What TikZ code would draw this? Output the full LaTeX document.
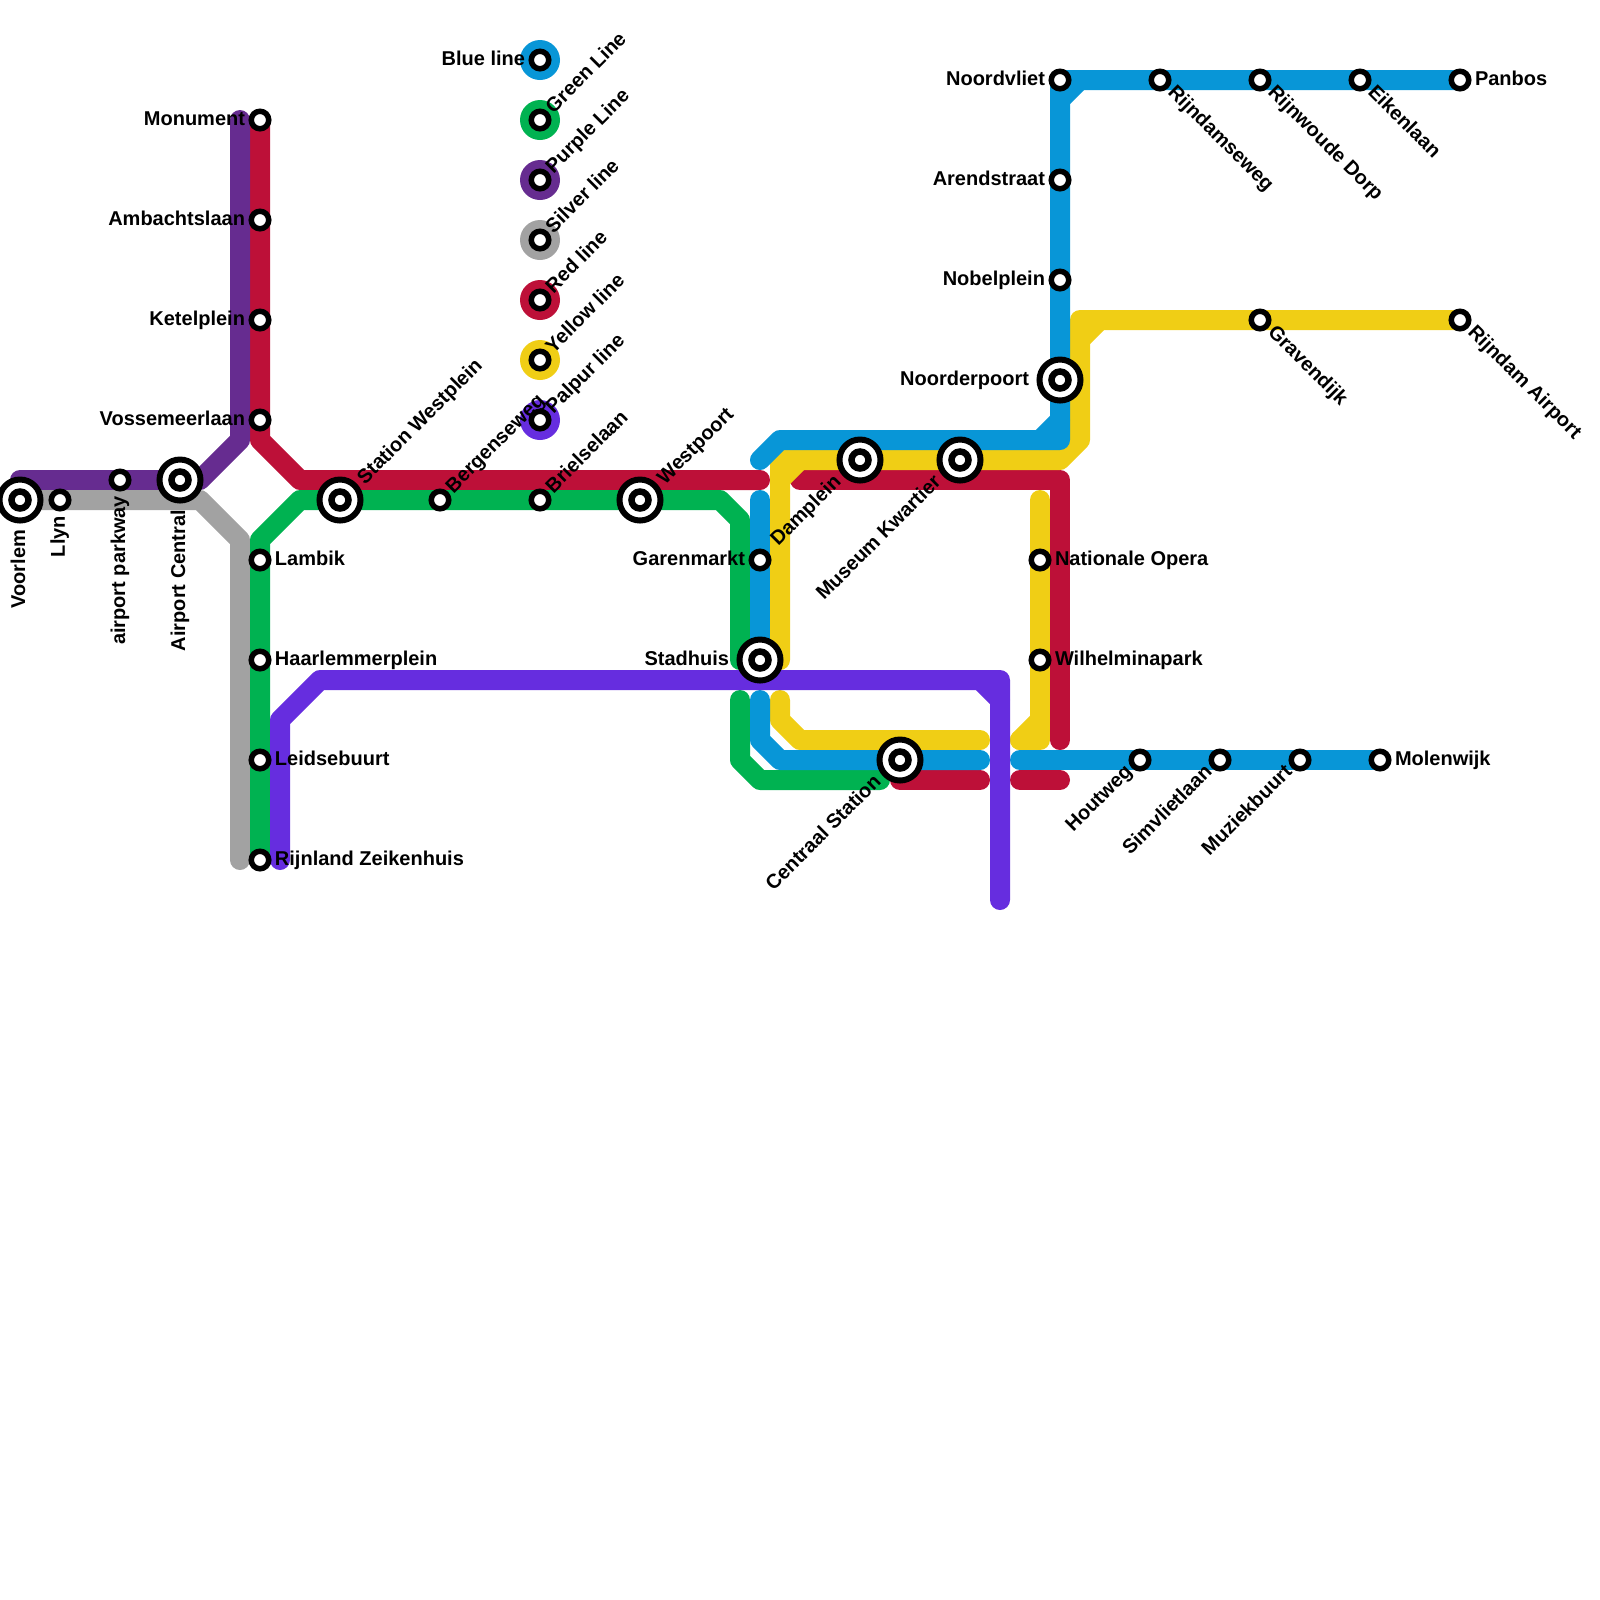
\documentclass[tikz,border=0pt]{standalone}
\usepackage{fontspec}
\setmainfont{Liberation Sans}
\definecolor{lineBlue}{HTML}{0896D7}
\definecolor{lineGreen}{HTML}{00B251}
\definecolor{linePurple}{HTML}{662C90}
\definecolor{lineSilver}{HTML}{A2A2A2}
\definecolor{lineRed}{HTML}{BD1038}
\definecolor{lineYellow}{HTML}{F0CE15}
\definecolor{linePalpur}{HTML}{662DDF}
\pgfdeclarelayer{lines}
\pgfsetlayers{lines,main}
\tikzset{
  track/.style={line width=0.2cm,line cap=round,line join=round},
  stop/.style={circle,draw=black,fill=white,line width=0.055cm,minimum size=0.175cm,inner sep=0pt,outer sep=0pt},
  hub/.style={circle,draw=black,fill=white,line width=0.06cm,minimum size=0.41cm,inner sep=0pt,outer sep=0pt},
  hubcore/.style={stop,line width=0.065cm,minimum size=0.17cm},
  keydot/.style={circle,minimum size=0.4cm,inner sep=0pt,outer sep=0pt},
  tag/.style={font=\bfseries\fontsize{5.69}{6}\selectfont,inner sep=0pt,outer sep=0pt},
  toE/.style={tag,anchor=base west,xshift=0.15cm,yshift=-0.055cm},
  toW/.style={tag,anchor=base east,xshift=-0.15cm,yshift=-0.055cm},
  toWW/.style={tag,anchor=base east,xshift=-0.31cm,yshift=-0.055cm},
  toS/.style={tag,anchor=base east,xshift=0.05cm,yshift=-0.16cm,rotate=90},
  toSS/.style={tag,anchor=base east,xshift=0.05cm,yshift=-0.3cm,rotate=90},
  toNE/.style={tag,anchor=base west,xshift=0.135cm,yshift=0.06cm,rotate=45},
  toNEE/.style={tag,anchor=base west,xshift=0.25cm,yshift=0.15cm,rotate=45},
  toSE/.style={tag,anchor=base west,xshift=0.07cm,yshift=-0.13cm,rotate=-45},
  toSW/.style={tag,anchor=base east,xshift=-0.07cm,yshift=-0.13cm,rotate=45},
  toSWW/.style={tag,anchor=base east,xshift=-0.18cm,yshift=-0.23cm,rotate=45},
}
\begin{document}
\begin{tikzpicture}[x=0.2cm,y=-0.2cm]
  \useasboundingbox (0,0) rectangle (80,80);
  % --- Stations ---
  \foreach \id/\xx/\yy in {voorlem/1/25,airportCentral/9/24,stationWestplein/17/25,westpoort/32/25,stadhuis/38/33,damplein/43/23,museumKwartier/48/23,centraalStation/45/38,noorderpoort/53/19} {
    \node[hub] (\id) at (\xx,\yy) {};
    \node[hubcore] (\id In) at (\xx,\yy) {};
  }
  \foreach \id/\xx/\yy in {llyn/3/25,airportParkway/6/24,monument/13/6,ambachtslaan/13/11,ketelplein/13/16,vossemeerlaan/13/21,lambik/13/28,haarlemmerplein/13/33,leidsebuurt/13/38,rijnland/13/43,bergenseweg/22/25,brielselaan/27/25,garenmarkt/38/28,noordvliet/53/4,arendstraat/53/9,nobelplein/53/14,rijndamseweg/58/4,rijnwoude/63/4,eikenlaan/68/4,panbos/73/4,gravendijk/63/16,rijndamAirport/73/16,nationaleOpera/52/28,wilhelminapark/52/33,houtweg/57/38,simvlietlaan/61/38,muziekbuurt/65/38,molenwijk/69/38}
    \node[stop] (\id) at (\xx,\yy) {};
  % --- Legend ---
  \foreach \id/\col/\yy in {keyBlue/lineBlue/3,keyGreen/lineGreen/6,keyPurple/linePurple/9,keySilver/lineSilver/12,keyRed/lineRed/15,keyYellow/lineYellow/18,keyPalpur/linePalpur/21} {
    \node[keydot,fill=\col] (\id) at (27,\yy) {};
    \node[stop] (\id In) at (27,\yy) {};
  }
  % --- Bends and free ends ---
  \coordinate (purpleA) at (1,24);
  \coordinate (purpleB) at (10,24);
  \coordinate (purpleC) at (12,22);
  \coordinate (purpleD) at (12,6);
  \coordinate (silverA) at (1,25);
  \coordinate (silverB) at (10,25);
  \coordinate (silverC) at (12,27);
  \coordinate (silverD) at (12,43);
  \coordinate (redA) at (13,22);
  \coordinate (redB) at (15,24);
  \coordinate (redC) at (38,24);
  \coordinate (redD) at (40,24);
  \coordinate (redE) at (53,24);
  \coordinate (redF) at (53,37);
  \coordinate (redG) at (45,39);
  \coordinate (redH) at (49,39);
  \coordinate (redI) at (51,39);
  \coordinate (redJ) at (53,39);
  \coordinate (greenA) at (13,27);
  \coordinate (greenB) at (15,25);
  \coordinate (greenC) at (36,25);
  \coordinate (greenD) at (37,26);
  \coordinate (greenE) at (37,33);
  \coordinate (greenF) at (37,35);
  \coordinate (greenG) at (37,38);
  \coordinate (greenH) at (38,39);
  \coordinate (greenI) at (44,39);
  \coordinate (blueA) at (53,5);
  \coordinate (blueB) at (54,4);
  \coordinate (blueC) at (53,21);
  \coordinate (blueD) at (52,22);
  \coordinate (blueE) at (53,22);
  \coordinate (blueF) at (39,22);
  \coordinate (blueG) at (38,23);
  \coordinate (blueH) at (38,25);
  \coordinate (blueI) at (38,35);
  \coordinate (blueJ) at (38,37);
  \coordinate (blueK) at (39,38);
  \coordinate (blueL) at (49,38);
  \coordinate (blueM) at (51,38);
  \coordinate (yellowA) at (39,33);
  \coordinate (yellowB) at (39,23);
  \coordinate (yellowC) at (39,24);
  \coordinate (yellowD) at (40,23);
  \coordinate (yellowE) at (53,23);
  \coordinate (yellowF) at (54,22);
  \coordinate (yellowG) at (54,16);
  \coordinate (yellowH) at (54,17);
  \coordinate (yellowI) at (55,16);
  \coordinate (yellowJ) at (39,35);
  \coordinate (yellowK) at (39,36);
  \coordinate (yellowL) at (40,37);
  \coordinate (yellowM) at (49,37);
  \coordinate (yellowN) at (52,25);
  \coordinate (yellowO) at (52,37);
  \coordinate (yellowP) at (51,37);
  \coordinate (yellowQ) at (52,36);
  \coordinate (palpurA) at (14,43);
  \coordinate (palpurB) at (14,36);
  \coordinate (palpurC) at (16,34);
  \coordinate (palpurD) at (50,34);
  \coordinate (palpurE) at (50,45);
  \coordinate (palpurF) at (49,34);
  \coordinate (palpurG) at (50,35);
  % --- Lines ---
  \begin{pgfonlayer}{lines}
    \draw[track,lineRed] (monument.center) -- (redA) -- (redB) -- (redC);
    \draw[track,lineRed] (redD) -- (redE) -- (redF);
    \draw[track,lineRed] (redG) -- (redH);
    \draw[track,lineRed] (redI) -- (redJ);
    \draw[track,linePurple] (purpleA) -- (purpleB) -- (purpleC) -- (purpleD);
    \draw[track,lineSilver] (silverA) -- (silverB) -- (silverC) -- (silverD);
    \draw[track,lineGreen] (rijnland.center) -- (greenA) -- (greenB) -- (greenC) -- (greenD) -- (greenE);
    \draw[track,lineGreen] (greenF) -- (greenG) -- (greenH) -- (greenI);
    % yellow lies under blue
    \draw[track,lineYellow] (yellowA) -- (yellowB) -- (yellowE) -- (yellowF) -- (yellowG) -- (rijndamAirport.center);
    \draw[track,lineYellow] (yellowC) -- (yellowD);
    \draw[track,lineYellow] (yellowH) -- (yellowI);
    \draw[track,lineYellow] (yellowJ) -- (yellowK) -- (yellowL) -- (yellowM);
    \draw[track,lineYellow] (yellowN) -- (yellowO) -- (yellowP);
    \draw[track,lineYellow] (yellowQ) -- (yellowP);
    \draw[track,lineBlue] (panbos.center) -- (noordvliet.center) -- (blueE) -- (blueF) -- (blueG);
    \draw[track,lineBlue] (blueA) -- (blueB);
    \draw[track,lineBlue] (blueC) -- (blueD);
    \draw[track,lineBlue] (blueH) -- (stadhuis.center);
    \draw[track,lineBlue] (blueI) -- (blueJ) -- (blueK) -- (blueL);
    \draw[track,lineBlue] (blueM) -- (molenwijk.center);
    \draw[track,linePalpur] (palpurA) -- (palpurB) -- (palpurC) -- (palpurD) -- (palpurE);
    \draw[track,linePalpur] (palpurF) -- (palpurG);
  \end{pgfonlayer}
  % --- Names ---
  \node[toSS] (voorlemName) at (voorlem) {Voorlem};
  \node[toS] (llynName) at (llyn) {Llyn};
  \node[toS] (airportParkwayName) at (airportParkway) {airport parkway};
  \node[toSS] (airportCentralName) at (airportCentral) {Airport Central};
  \node[toW] (monumentName) at (monument) {Monument};
  \node[toW] (ambachtslaanName) at (ambachtslaan) {Ambachtslaan};
  \node[toW] (ketelpleinName) at (ketelplein) {Ketelplein};
  \node[toW] (vossemeerlaanName) at (vossemeerlaan) {Vossemeerlaan};
  \node[toE] (lambikName) at (lambik) {Lambik};
  \node[toE] (haarlemmerpleinName) at (haarlemmerplein) {Haarlemmerplein};
  \node[toE] (leidsebuurtName) at (leidsebuurt) {Leidsebuurt};
  \node[toE] (rijnlandName) at (rijnland) {Rijnland Zeikenhuis};
  \node[toNEE] (stationWestpleinName) at (stationWestplein) {Station Westplein};
  \node[toNE] (bergensewegName) at (bergenseweg) {Bergenseweg};
  \node[toNE] (brielselaanName) at (brielselaan) {Brielselaan};
  \node[toNEE] (westpoortName) at (westpoort) {Westpoort};
  \node[toW] (garenmarktName) at (garenmarkt) {Garenmarkt};
  \node[toWW] (stadhuisName) at (stadhuis) {Stadhuis};
  \node[toSWW] (dampleinName) at (damplein) {Damplein};
  \node[toSWW] (museumKwartierName) at (museumKwartier) {Museum Kwartier};
  \node[toSWW] (centraalStationName) at (centraalStation) {Centraal Station};
  \node[toWW] (noorderpoortName) at (noorderpoort) {Noorderpoort};
  \node[toW] (noordvlietName) at (noordvliet) {Noordvliet};
  \node[toW] (arendstraatName) at (arendstraat) {Arendstraat};
  \node[toW] (nobelpleinName) at (nobelplein) {Nobelplein};
  \node[toSE] (rijndamsewegName) at (rijndamseweg) {Rijndamseweg};
  \node[toSE] (rijnwoudeName) at (rijnwoude) {Rijnwoude Dorp};
  \node[toSE] (eikenlaanName) at (eikenlaan) {Eikenlaan};
  \node[toE] (panbosName) at (panbos) {Panbos};
  \node[toSE] (gravendijkName) at (gravendijk) {Gravendijk};
  \node[toSE] (rijndamAirportName) at (rijndamAirport) {Rijndam Airport};
  \node[toE] (nationaleOperaName) at (nationaleOpera) {Nationale Opera};
  \node[toE] (wilhelminaparkName) at (wilhelminapark) {Wilhelminapark};
  \node[toSW] (houtwegName) at (houtweg) {Houtweg};
  \node[toSW] (simvlietlaanName) at (simvlietlaan) {Simvlietlaan};
  \node[toSW] (muziekbuurtName) at (muziekbuurt) {Muziekbuurt};
  \node[toE] (molenwijkName) at (molenwijk) {Molenwijk};
  \node[toW] (keyBlueName) at (keyBlue) {Blue line};
  \node[toNE] (keyGreenName) at (keyGreen) {Green Line};
  \node[toNE] (keyPurpleName) at (keyPurple) {Purple Line};
  \node[toNE] (keySilverName) at (keySilver) {Silver line};
  \node[toNE] (keyRedName) at (keyRed) {Red line};
  \node[toNE] (keyYellowName) at (keyYellow) {Yellow line};
  \node[toNE] (keyPalpurName) at (keyPalpur) {Palpur line};
\end{tikzpicture}
\end{document}
